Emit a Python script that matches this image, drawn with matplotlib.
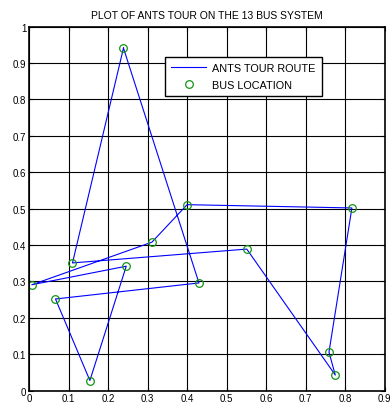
import matplotlib
matplotlib.use("Agg")
import matplotlib.pyplot as plt

plt.rcParams['font.family'] = ['Liberation Sans', 'DejaVu Sans']

# bus coordinates in the order the ants visit them (closed tour)
tour_x = [0.239, 0.430, 0.067, 0.154, 0.246, 0.007, 0.311, 0.400, 0.817, 0.759, 0.775, 0.551, 0.110, 0.239]
tour_y = [0.941, 0.296, 0.252, 0.028, 0.342, 0.291, 0.408, 0.511, 0.502, 0.106, 0.043, 0.389, 0.351, 0.941]

bus_x = tour_x[:-1]
bus_y = tour_y[:-1]

xticks = [0, 0.1, 0.2, 0.3, 0.4, 0.5, 0.6, 0.7, 0.8, 0.9]
yticks = [0, 0.1, 0.2, 0.3, 0.4, 0.5, 0.6, 0.7, 0.8, 0.9, 1]

fig = plt.figure(figsize=(3.9, 4.1), dpi=100)
ax = fig.add_axes([0.0744, 0.0446, 0.912, 0.888])

ax.plot(tour_x, tour_y, color='blue', lw=0.8, label='ANTS TOUR ROUTE')
ax.plot(bus_x, bus_y, ls='none', marker='o', ms=5.5, mfc='none', mec='#149414',
        mew=0.9, label='BUS LOCATION')

ax.set_xlim(0, 0.9)
ax.set_ylim(0, 1)
ax.set_xticks(xticks)
ax.set_yticks(yticks)
ax.set_xticklabels([f'{v:g}' for v in xticks])
ax.set_yticklabels([f'{v:g}' for v in yticks])
ax.tick_params(direction='in', length=3, labelsize=7, pad=2, top=True, right=True)
ax.grid(True, color='black', lw=0.8)
for s in ax.spines.values():
    s.set_linewidth(1.2)

ax.set_title('PLOT OF ANTS TOUR ON THE 13 BUS SYSTEM', fontsize=7.5, pad=6)

leg = ax.legend(loc='upper left', bbox_to_anchor=(0.383, 0.916), fontsize=7.8,
                frameon=True, fancybox=False, edgecolor='black', framealpha=1,
                handlelength=3.2, borderpad=0.55, labelspacing=0.6, handletextpad=0.6,
                borderaxespad=0)
leg.get_frame().set_linewidth(1.0)

fig.savefig('out.png', dpi=100)
